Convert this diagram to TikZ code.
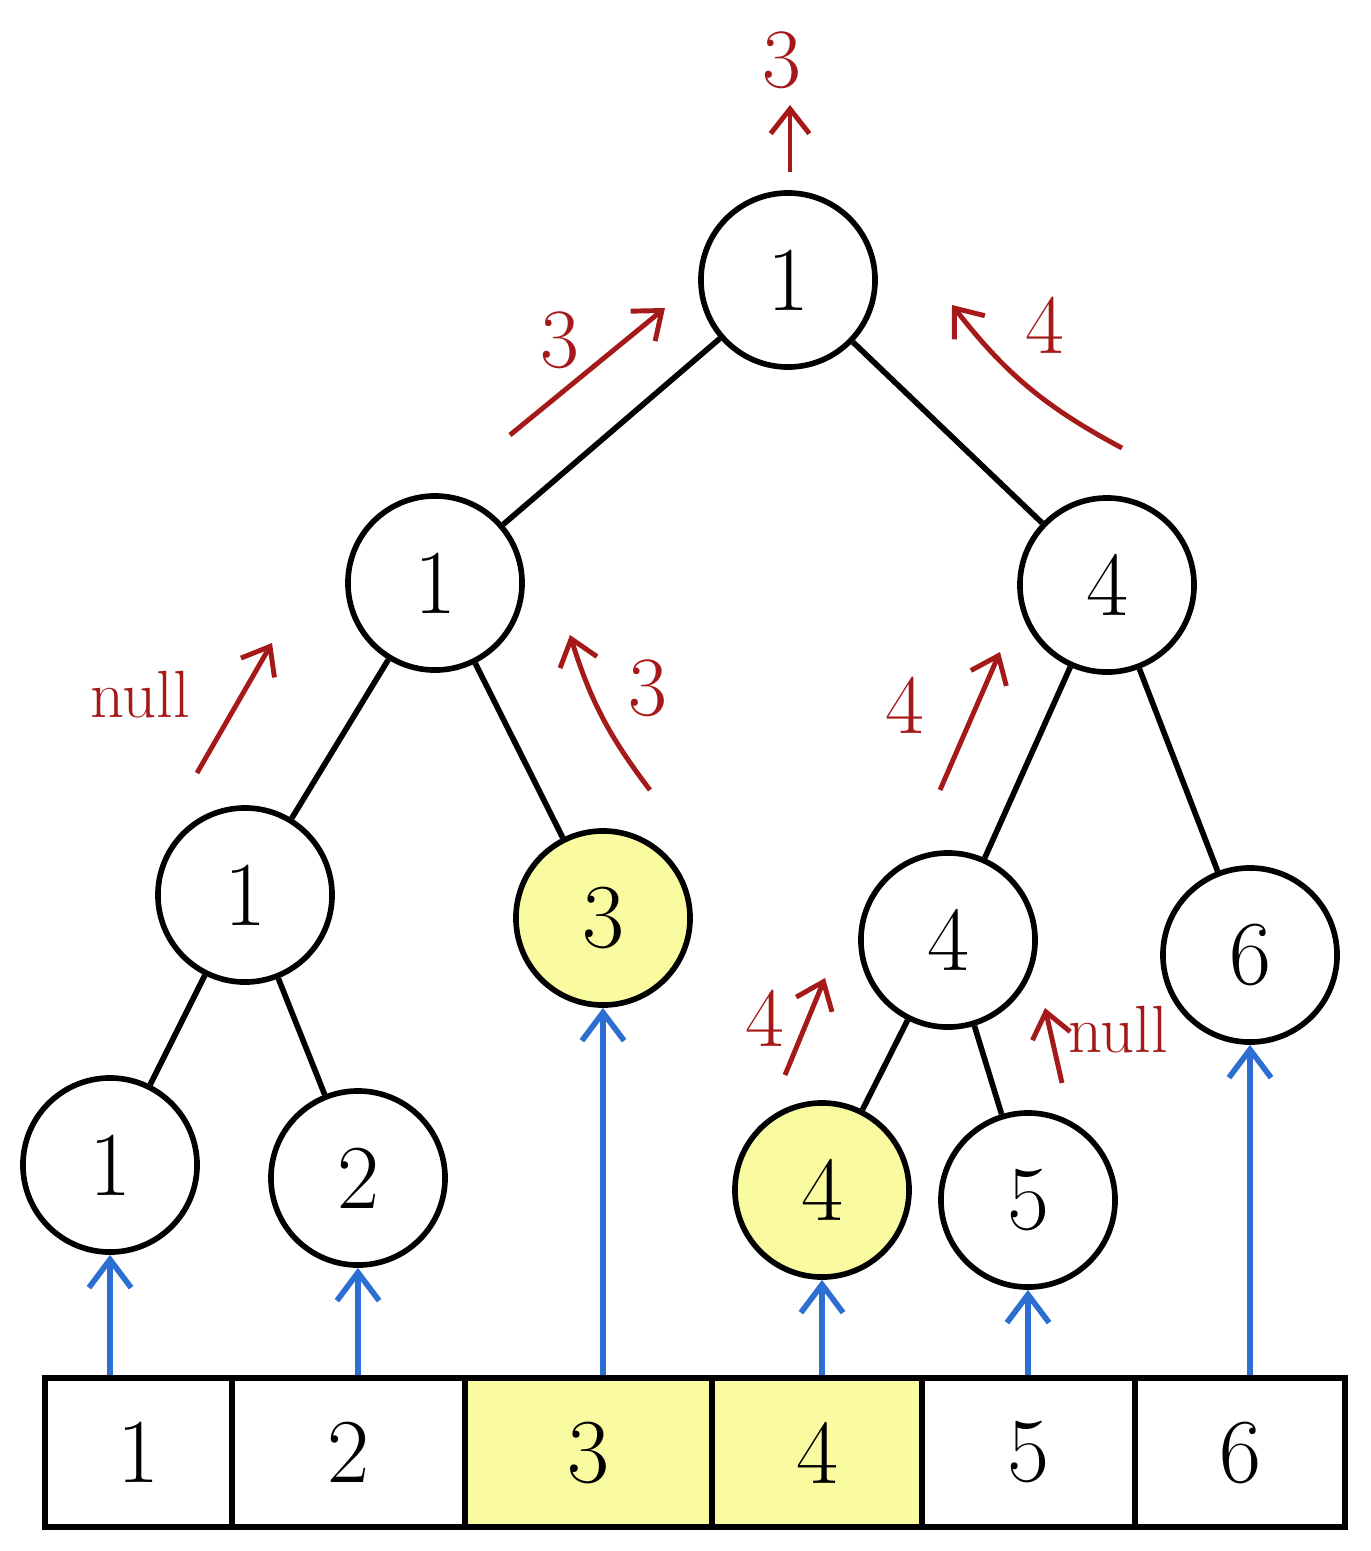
\documentclass[tikz,border=0pt]{standalone}
\usepackage{tikz}
\usetikzlibrary{arrows.meta,positioning,calc}
\usepackage{xcolor}
\definecolor{InkR}  {RGB}{165, 25,  25}
\definecolor{InkB}  {RGB}{ 45,110, 210}
\definecolor{HiY}   {RGB}{250,250, 160}

\tikzset{
  tnode/.style={circle,draw,line width=1.6pt,minimum size=1.74cm,inner sep=0pt,
    font=\fontsize{26}{30}\selectfont},
  hinode/.style={tnode,fill=HiY},
  cell/.style={draw,line width=1.6pt,minimum height=1.49cm,inner sep=0pt,
    font=\fontsize{26}{30}\selectfont},
  edge/.style={line width=1.6pt},
  up/.style={InkB,line width=1.6pt,-{Straight Barb[length=8pt,width=12pt]}},
  back/.style={InkR,line width=1.4pt,-{Straight Barb[length=7pt,width=11pt]}},
  lab/.style={InkR,font=\fontsize{24}{28}\selectfont},
  nulllab/.style={InkR,font=\fontsize{19}{22}\selectfont},
}

\begin{document}
\begin{tikzpicture}[x=0.01cm,y=-0.01cm]
        \useasboundingbox (0,0) rectangle (1371,1551);
        % tree
        \node[tnode] (r) at (788,280) {1};
        \node[tnode] (a) at (435,583) {1};
        \node[tnode] (b) at (1107,585) {4};
        \node[tnode] (aa) at (245,895) {1};
        \node[hinode] (ab) at (603,918) {3};
        \node[tnode] (ba) at (948,940) {4};
        \node[tnode] (bb) at (1250,955) {6};
        \node[tnode] (aaa) at (110,1165) {1};
        \node[tnode] (aab) at (358,1178) {2};
        \node[hinode] (baa) at (822,1190) {4};
        \node[tnode] (bab) at (1028,1200) {5};
        \draw[edge] (r) -- (a);
        \draw[edge] (r) -- (b);
        \draw[edge] (a) -- (aa);
        \draw[edge] (a) -- (ab);
        \draw[edge] (b) -- (ba);
        \draw[edge] (b) -- (bb);
        \draw[edge] (aa) -- (aaa);
        \draw[edge] (aa) -- (aab);
        \draw[edge] (ba) -- (baa);
        \draw[edge] (ba) -- (bab);
        % array
        \node[cell,minimum width=1.87cm] (c1) at (138.5,1452.5) {1};
        \node[cell,minimum width=2.33cm] (c2) at (348.5,1452.5) {2};
        \node[cell,minimum width=2.47cm,fill=HiY] (c3) at (588.5,1452.5) {3};
        \node[cell,minimum width=2.10cm,fill=HiY] (c4) at (817,1452.5) {4};
        \node[cell,minimum width=2.13cm] (c5) at (1028.5,1452.5) {5};
        \node[cell,minimum width=2.10cm] (c6) at (1240,1452.5) {6};
        \draw[up] (c1.north -| aaa) -- (aaa);
        \draw[up] (c2.north -| aab) -- (aab);
        \draw[up] (c3.north -| ab) -- (ab);
        \draw[up] (c4.north -| baa) -- (baa);
        \draw[up] (c5.north -| bab) -- (bab);
        \draw[up] (c6.north -| bb) -- (bb);
        % query results going up
        \draw[back] (790,172) -- (790,105);
        \node[lab] (q0) at (782,60) {3};
        \draw[back] (510,435) -- (665,308);
        \node[lab] (q1) at (560,340) {3};
        \draw[back] (1122,448) to[bend left=12] (952,305);
        \node[lab] (q2) at (1045,325) {4};
        \draw[back] (197,773) -- (272,643);
        \node[nulllab] (q3) at (140,695) {null};
        \draw[back] (650,790) to[bend left=10] (570,635);
        \node[lab] (q4) at (648,688) {3};
        \draw[back] (940,790) -- (1000,652);
        \node[lab] (q5) at (905,705) {4};
        \draw[back] (785,1075) -- (825,978);
        \node[lab] (q6) at (765,1018) {4};
        \draw[back] (1062,1083) -- (1045,1008);
        \node[nulllab] (q7) at (1118,1030) {null};
      \end{tikzpicture}
\end{document}
